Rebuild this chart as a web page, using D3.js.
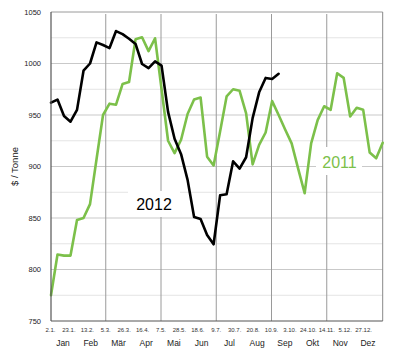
<!DOCTYPE html>
<html>
<head>
<meta charset="utf-8">
<script src="https://cdn.jsdelivr.net/npm/d3@7"></script>
<style>
  html, body { margin: 0; padding: 0; background: #fff; }
  svg { display: block; font-family: "Liberation Sans", Arial, Helvetica, sans-serif; }
</style>
</head>
<body>
<svg id="chart" width="400" height="358"></svg>
<script>
// ---- data (weekly values, $ / Tonne) ----
const series2012 = [962, 965, 949, 943.5, 955, 993, 1000, 1020.5, 1018, 1015,
  1031.5, 1028.5, 1024, 1019, 999.5, 995.5, 1002, 998, 953, 927,
  912, 887, 851, 849, 833.5, 824.5, 872, 873, 905, 898,
  909, 947, 972, 986, 985, 990];
const series2011 = [775, 814.5, 813.5, 813.5, 848, 850, 863.5, 907, 950, 961,
  960, 980, 982, 1023.5, 1025.5, 1012, 1024.5, 975, 925, 913,
  926, 951, 965, 967, 909.5, 901, 934, 968, 975, 973.5,
  951.5, 902, 921, 933, 963.5, 950, 936, 922.5, 898, 874,
  922.5, 945, 958.5, 955, 990.5, 986, 948.5, 957, 955, 913.5,
  908, 923];
const dateTicks = ["2.1.", "23.1.", "13.2.", "5.3.", "26.3.", "16.4.", "7.5.", "28.5.", "18.6.",
  "9.7.", "30.7.", "20.8.", "10.9.", "3.10.", "24.10.", "14.11.", "5.12.", "27.12."];
const months = ["Jan", "Feb", "Mär", "Apr", "Mai", "Jun", "Jul", "Aug", "Sep", "Okt", "Nov", "Dez"];
const yTicks = [750, 800, 850, 900, 950, 1000, 1050];
const yMinor = [775, 825, 875, 925, 975, 1025];
const verticalAt = ["5.3.", "7.5.", "9.7.", "10.9.", "14.11."];
const yTitle = "$ / Tonne";

// ---- layout ----
const L = 51, R = 382.7, T = 12, B = 321;
const svg = d3.select("#chart");

const y = d3.scaleLinear().domain([750, 1050]).range([B, T]);
const x = d3.scaleLinear().domain([0, 51]).range([L, R]);
const xt = d3.scalePoint().domain(dateTicks).range([50.5, 363.6]);
const xm = d3.scalePoint().domain(months).range([63, 368]);

// minor horizontal grid
svg.append("g").selectAll("line").data(yMinor).join("line")
  .attr("x1", L).attr("x2", R)
  .attr("y1", d => y(d)).attr("y2", d => y(d))
  .attr("stroke", "#e4e4e4").attr("stroke-width", 1);
// major horizontal grid
svg.append("g").selectAll("line").data(yTicks.filter(d => d > 750 && d < 1050)).join("line")
  .attr("x1", L).attr("x2", R)
  .attr("y1", d => y(d)).attr("y2", d => y(d))
  .attr("stroke", "#c9c9c9").attr("stroke-width", 1);
// vertical grid
svg.append("g").selectAll("line").data(verticalAt).join("line")
  .attr("x1", d => xt(d)).attr("x2", d => xt(d))
  .attr("y1", 14).attr("y2", B)
  .attr("stroke", "#9a9a9a").attr("stroke-width", 1);

// frame
svg.append("line").attr("x1", L).attr("x2", R).attr("y1", T).attr("y2", T)
  .attr("stroke", "#9a9a9a");
svg.append("line").attr("x1", R).attr("x2", R).attr("y1", T).attr("y2", B)
  .attr("stroke", "#888");

// label boxes (white background behind series labels)
svg.append("rect").attr("x", 128).attr("y", 191).attr("width", 52).attr("height", 26).attr("fill", "#fff");
svg.append("rect").attr("x", 316).attr("y", 147).attr("width", 46).attr("height", 28).attr("fill", "#fff");

// lines
const line = d3.line().x((d, i) => x(i)).y(d => y(d)).curve(d3.curveLinear);
svg.append("path").datum(series2011)
  .attr("d", line).attr("fill", "none")
  .attr("stroke", "#7cc04a").attr("stroke-width", 2.6)
  .attr("stroke-linejoin", "round").attr("stroke-linecap", "round");
svg.append("path").datum(series2012)
  .attr("d", line).attr("fill", "none")
  .attr("stroke", "#000").attr("stroke-width", 2.6)
  .attr("stroke-linejoin", "round").attr("stroke-linecap", "round");

// axes lines
svg.append("line").attr("x1", L).attr("x2", L).attr("y1", T).attr("y2", B)
  .attr("stroke", "#555").attr("stroke-width", 1.2);
svg.append("line").attr("x1", L).attr("x2", R).attr("y1", B).attr("y2", B)
  .attr("stroke", "#555").attr("stroke-width", 1.2);

// y tick labels
svg.append("g").selectAll("text").data(yTicks).join("text")
  .attr("x", 41).attr("y", d => y(d))
  .attr("dy", "0.35em").attr("text-anchor", "end")
  .attr("font-size", 7.5).attr("fill", "#222")
  .text(d => d);

// date tick labels
svg.append("g").selectAll("text").data(dateTicks).join("text")
  .attr("x", d => xt(d)).attr("y", 331.5)
  .attr("text-anchor", "middle")
  .attr("font-size", 6).attr("fill", "#333")
  .text(d => d);

// month labels
svg.append("g").selectAll("text").data(months).join("text")
  .attr("x", d => xm(d)).attr("y", 346)
  .attr("text-anchor", "middle")
  .attr("font-size", 8.5).attr("fill", "#222")
  .text(d => d);

// y title
svg.append("text")
  .attr("transform", `translate(18,${(T + B) / 2}) rotate(-90)`)
  .attr("text-anchor", "middle")
  .attr("font-size", 9.5).attr("fill", "#111")
  .text(yTitle);

// series labels
svg.append("text").attr("x", 154).attr("y", 210)
  .attr("text-anchor", "middle").attr("font-size", 16).attr("fill", "#000")
  .text("2012");
svg.append("text").attr("x", 339.5).attr("y", 168)
  .attr("text-anchor", "middle").attr("font-size", 16).attr("fill", "#7cc04a")
  .text("2011");
</script>
</body>
</html>
